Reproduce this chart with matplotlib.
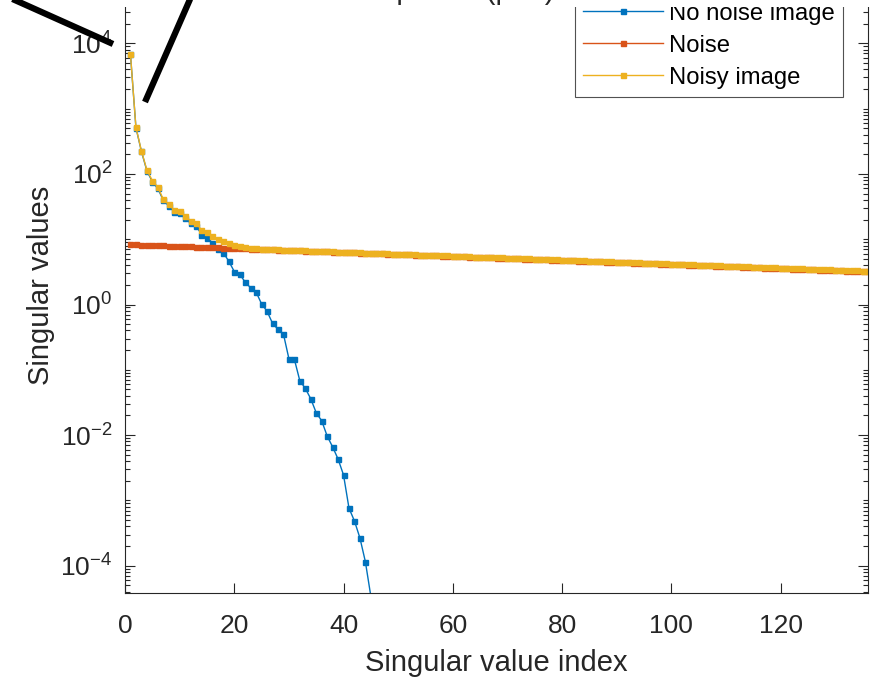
import numpy as np
import matplotlib
matplotlib.use("Agg")
import matplotlib.pyplot as plt
from matplotlib.lines import Line2D
from matplotlib.patches import Rectangle
from matplotlib.ticker import LogLocator, FixedLocator, NullFormatter, LogFormatterMathtext

plt.rcParams['font.family'] = ['Liberation Sans', 'DejaVu Sans']
plt.rcParams['mathtext.fontset'] = 'custom'
plt.rcParams['mathtext.rm'] = 'Liberation Sans'
plt.rcParams['mathtext.it'] = 'Liberation Sans:italic'
plt.rcParams['mathtext.bf'] = 'Liberation Sans:bold'

# ---------------- data ----------------
series_names = ["No noise image", "Noise", "Noisy image"]
title_text = "Spectra (p=1)"
x_label = "Singular value index"
y_label = "Singular values"
x_ticks = [0, 20, 40, 60, 80, 100, 120]

no_noise = [6780, 512, 222, 112, 76, 60, 39.5, 32.5, 26.3, 25.3,
            21.0, 17.6, 16.2, 11.8, 10.4, 8.7, 7.1, 6.2, 4.6, 3.2,
            2.9, 2.2, 1.8, 1.55, 1.02, 0.79, 0.515, 0.417, 0.353, 0.148,
            0.145, 0.068, 0.052, 0.036, 0.022, 0.0166, 0.0097, 0.0066, 0.0043, 0.00245,
            0.00076, 0.000484, 0.000266, 0.000115, 0.000034]

noise = [8.40, 8.34, 8.28, 8.22, 8.16, 8.10, 8.05, 7.99, 7.93, 7.88,
         7.82, 7.77, 7.71, 7.66, 7.60, 7.55, 7.50, 7.44, 7.39, 7.34,
         7.29, 7.24, 7.18, 7.13, 7.08, 7.03, 6.98, 6.93, 6.89, 6.84,
         6.79, 6.74, 6.69, 6.65, 6.60, 6.55, 6.51, 6.46, 6.42, 6.37,
         6.33, 6.28, 6.24, 6.19, 6.15, 6.11, 6.06, 6.02, 5.98, 5.93,
         5.89, 5.85, 5.81, 5.77, 5.73, 5.69, 5.65, 5.61, 5.57, 5.53,
         5.49, 5.45, 5.41, 5.37, 5.34, 5.30, 5.26, 5.22, 5.19, 5.15,
         5.11, 5.08, 5.04, 5.01, 4.97, 4.94, 4.90, 4.87, 4.83, 4.80,
         4.76, 4.73, 4.70, 4.66, 4.63, 4.60, 4.56, 4.53, 4.50, 4.47,
         4.44, 4.40, 4.37, 4.34, 4.31, 4.28, 4.25, 4.22, 4.19, 4.16,
         4.13, 4.10, 4.07, 4.04, 4.01, 3.98, 3.96, 3.93, 3.90, 3.87,
         3.84, 3.82, 3.79, 3.76, 3.74, 3.71, 3.68, 3.66, 3.63, 3.60,
         3.58, 3.55, 3.53, 3.50, 3.48, 3.45, 3.43, 3.40, 3.38, 3.36,
         3.33, 3.31, 3.28, 3.26, 3.24, 3.21]

noisy = [6800, 518, 226, 115, 79, 63, 41, 34, 28, 27,
         22.6, 19.2, 17.8, 13.8, 12.8, 11.2, 10.0, 9.4, 8.9, 8.1,
         7.85, 7.57, 7.40, 7.30, 7.15, 7.09, 7.04, 6.99, 6.95, 6.90,
         6.85, 6.80, 6.75, 6.71, 6.66, 6.61, 6.57, 6.52, 6.48, 6.43,
         6.39, 6.34, 6.30, 6.25, 6.21, 6.17, 6.12, 6.08, 6.04, 5.99,
         5.95, 5.91, 5.87, 5.83, 5.79, 5.75, 5.71, 5.67, 5.63, 5.59,
         5.55, 5.51, 5.47, 5.43, 5.40, 5.36, 5.32, 5.28, 5.25, 5.21,
         5.17, 5.14, 5.10, 5.07, 5.03, 5.00, 4.96, 4.93, 4.89, 4.86,
         4.82, 4.79, 4.76, 4.72, 4.69, 4.66, 4.62, 4.59, 4.56, 4.53,
         4.50, 4.46, 4.43, 4.40, 4.37, 4.34, 4.31, 4.28, 4.25, 4.22,
         4.19, 4.16, 4.13, 4.10, 4.07, 4.04, 4.02, 3.99, 3.96, 3.93,
         3.90, 3.88, 3.85, 3.82, 3.80, 3.77, 3.74, 3.72, 3.69, 3.66,
         3.64, 3.61, 3.59, 3.56, 3.54, 3.51, 3.49, 3.46, 3.44, 3.42,
         3.39, 3.37, 3.34, 3.32, 3.30, 3.27]

colors = ["#0072BD", "#D95319", "#EDB120"]

# ---------------- figure ----------------
W, H = 882, 679
fig = plt.figure(figsize=(W / 100, H / 100), dpi=100)

def fx(px):
    return px / W

def fy(py):
    return 1 - py / H

ax_left, ax_right, ax_bottom, ax_top = 125, 868, 593, -22
ax = fig.add_axes([fx(ax_left), fy(ax_bottom), fx(ax_right - ax_left), (ax_bottom - ax_top) / H])

for vals, c, name in zip([no_noise, noise, noisy], colors, series_names):
    idx = np.arange(1, len(vals) + 1)
    ax.plot(idx, vals, color=c, lw=1.0, marker='s', ms=3.6, mec=c, mfc=c, label=name)

ax.set_yscale('log')
ax.set_xlim(0, 136)
ax.set_ylim(10 ** -4.418, 1e5)

ax.xaxis.set_major_locator(FixedLocator(x_ticks))
ax.yaxis.set_major_locator(FixedLocator([1e-4, 1e-2, 1e0, 1e2, 1e4]))
ax.yaxis.set_major_formatter(LogFormatterMathtext(base=10.0))
ax.yaxis.set_minor_locator(LogLocator(base=10.0, subs=np.arange(1, 10), numticks=40))
ax.yaxis.set_minor_formatter(NullFormatter())

tc = '#262626'
ax.tick_params(axis='both', which='both', direction='in', top=True, right=True,
               colors=tc, labelcolor=tc, labelsize=19, width=0.8)
ax.tick_params(axis='both', which='major', length=7)
ax.tick_params(axis='x', which='major', pad=15)
ax.tick_params(axis='y', which='major', pad=9)
ax.tick_params(axis='y', which='minor', length=3.5)
for s in ax.spines.values():
    s.set_color(tc)
    s.set_linewidth(0.8)

ax.set_xlabel(x_label, fontsize=21, color=tc, labelpad=8)
ax.set_ylabel(y_label, fontsize=21, color=tc, labelpad=4)

leg = ax.legend(loc='lower right', bbox_to_anchor=(fx(843), fy(97)),
                bbox_transform=fig.transFigure, fontsize=17.2, frameon=True,
                fancybox=False, edgecolor=tc, handlelength=3.35, handletextpad=0.25,
                labelspacing=0.42, borderpad=0.35, borderaxespad=0)
leg.get_frame().set_linewidth(0.8)

# white band at top of the picture
fig.add_artist(Rectangle((0, fy(7)), 1, 7 / H, transform=fig.transFigure,
                         facecolor='white', edgecolor='none', zorder=10))
# title, mostly outside the picture (as in the reference)
fig.text(fx(466), fy(-1), title_text, ha='center', va='baseline', fontsize=21,
         color=tc, zorder=11)

# thick black annotation strokes
fig.add_artist(Line2D([fx(8), fx(113)], [fy(-3), fy(44)], transform=fig.transFigure,
                      color='black', lw=4.5, solid_capstyle='butt', zorder=12))
fig.add_artist(Line2D([fx(191), fx(145)], [fy(-3), fy(102)], transform=fig.transFigure,
                      color='black', lw=4.5, solid_capstyle='butt', zorder=12))

fig.savefig('out.png', dpi=100)
